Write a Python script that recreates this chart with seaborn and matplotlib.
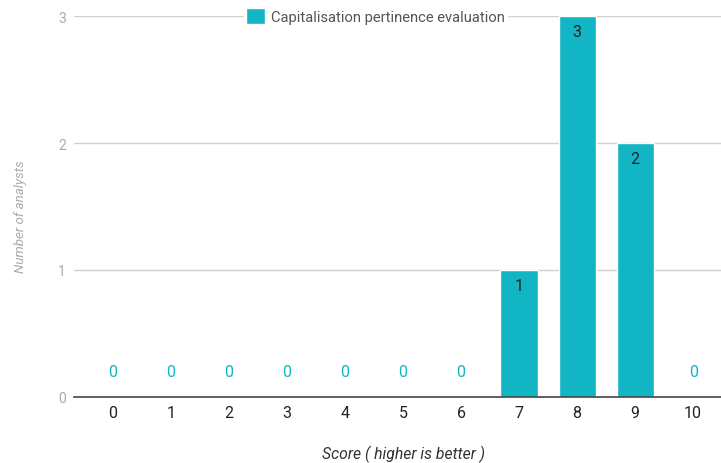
import matplotlib.pyplot as plt
import pandas as pd
import seaborn as sns

scores = [0, 1, 2, 3, 4, 5, 6, 7, 8, 9, 10]
analysts = [0, 0, 0, 0, 0, 0, 0, 1, 3, 2, 0]
series_name = "Capitalisation pertinence evaluation"

bar_color = "#12B5C4"

df = pd.DataFrame({"score": scores, "count": analysts, "series": series_name})

sns.set_style("white")
plt.rcParams["font.family"] = ["Roboto", "DejaVu Sans"]

fig = plt.figure(figsize=(7.21, 4.64), dpi=100)
ax = fig.add_axes([74 / 721, 66 / 464, 647 / 721, 381 / 464])

sns.barplot(
    data=df,
    x="score",
    y="count",
    hue="series",
    palette=[bar_color],
    saturation=1,
    width=0.64,
    ax=ax,
)

# value labels
for patch, val in zip(ax.patches, analysts):
    xc = patch.get_x() + patch.get_width() / 2
    if val == 0:
        ax.text(xc, 0.2, str(val), ha="center", va="center", color=bar_color, fontsize=11.5)
    else:
        ax.text(xc, val - 0.12, str(val), ha="center", va="center", color="#222222", fontsize=11.5)

ax.set_xlim(-0.67, 10.48)
ax.set_ylim(0, 3)
ax.set_yticks([0, 1, 2, 3])
ax.yaxis.grid(True, color="#d0d0d0", linewidth=1)
ax.set_axisbelow(True)
for s in ["top", "right", "left"]:
    ax.spines[s].set_visible(False)
ax.spines["bottom"].set_color("#444444")
ax.spines["bottom"].set_linewidth(1.2)

ax.tick_params(axis="x", length=0, labelsize=11.5, labelcolor="#222222", pad=6)
ax.tick_params(axis="y", length=0, labelsize=10, labelcolor="#aaaaaa", pad=6)

ax.set_xlabel("Score ( higher is better )", fontsize=11.3, fontstyle="italic", color="#333333")
ax.xaxis.set_label_coords(0.51, -0.125)
ax.set_ylabel("Number of analysts", fontsize=9.6, fontstyle="italic", color="#aaaaaa")
ax.yaxis.set_label_coords(-0.073, 0.475)

leg = ax.legend(
    loc="center",
    bbox_to_anchor=(0.466, 1.0),
    frameon=True,
    fontsize=10.6,
    handlelength=1.3,
    handleheight=1.3,
    handletextpad=0.45,
    borderpad=0.1,
)
leg.get_frame().set_facecolor("white")
leg.get_frame().set_edgecolor("white")
leg.get_frame().set_alpha(1)
for t in leg.get_texts():
    t.set_color("#555555")

fig.savefig("out.png", dpi=100)
